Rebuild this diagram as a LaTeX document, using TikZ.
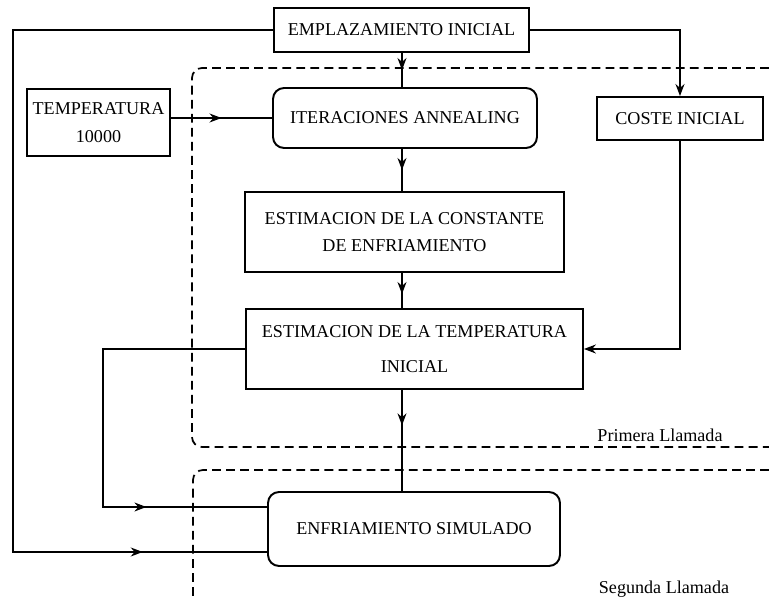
\documentclass[tikz,border=0pt]{standalone}
\usepackage{fontspec}
\setmainfont{Liberation Serif}
\usetikzlibrary{arrows.meta, positioning, calc, decorations.markings}

\begin{document}
\begin{tikzpicture}[
    x=0.02cm, y=-0.02cm,
    font=\fontsize{10.3}{12}\selectfont,
    box/.style={draw, line width=1.1pt, align=center, inner sep=2pt},
    rbox/.style={box, rounded corners=0.22cm},
    line/.style={line width=0.7pt},
    arr/.style={line, -{Stealth[length=2.4mm,width=1.8mm]}},
    midarr/.style={line, postaction={decorate}, decoration={markings,
        mark=at position #1 with {\arrow{Stealth[length=2.4mm,width=1.8mm]}}}},
    zone/.style={line width=1pt, dash pattern=on 5pt off 3pt, rounded corners=0.2cm},
  ]

  \useasboundingbox (0,0) rectangle (769,601);

  % boxes
  \node[box, minimum width=5.1cm, minimum height=0.88cm] (emplaz) at (401.5,30) {EMPLAZAMIENTO INICIAL};
  \node[box, minimum width=2.86cm, minimum height=1.34cm] (temp) at (98.5,122.5) {TEMPERATURA\\[4pt]10000};
  \node[rbox, minimum width=5.28cm, minimum height=1.2cm] (iter) at (405,118) {ITERACIONES ANNEALING};
  \node[box, minimum width=3.32cm, minimum height=0.86cm] (coste) at (680,118.5) {COSTE INICIAL};
  \node[box, minimum width=6.38cm, minimum height=1.6cm] (constante) at (404.5,232) {ESTIMACION DE LA CONSTANTE\\[3pt]DE ENFRIAMIENTO};
  \node[box, minimum width=6.74cm, minimum height=1.6cm] (tempini) at (414.5,349) {ESTIMACION DE LA TEMPERATURA\\[8pt]INICIAL};
  \node[rbox, minimum width=5.84cm, minimum height=1.48cm] (enfria) at (414,529) {ENFRIAMIENTO SIMULADO};

  % helper points
  \coordinate (spine) at (402,0);
  \coordinate (outer) at (13,0);
  \coordinate (loopx) at (103,0);
  \coordinate (inA) at ($(enfria.west)+(0,-22)$);
  \coordinate (inB) at ($(enfria.west)+(0,23)$);

  % main column, arrows half way
  \draw[midarr=0.5] (emplaz.south -| spine) -- (iter.north -| spine);
  \draw[midarr=0.5] (iter.south -| spine) -- (constante.north -| spine);
  \draw[midarr=0.6] (constante.south -| spine) -- (tempini.north -| spine);
  \draw[midarr=0.35] (tempini.south -| spine) -- (enfria.north -| spine);
  \draw[midarr=0.5] (temp.east |- iter.west) -- (iter.west);

  % right branch through the initial cost
  \draw[arr] (emplaz.east) -| (coste.north);
  \draw[arr] (coste.south) |- (tempini.east);

  % loops back down on the left
  \draw[midarr=0.74] (tempini.west) -| (loopx |- inA) -- (inA);
  \draw[midarr=0.88] (emplaz.west) -| (outer |- inB) -- (inB);

  % the two calls
  \draw[zone] (769,68) -- (192,68) -- (192,447) -- (769,447);
  \node (primera) at (660,435) {Primera Llamada};
  \draw[zone] (769,470) -- (193,470) -- (193,601);
  \node (segunda) at (664,589) {Segunda Llamada};

\end{tikzpicture}
\end{document}
